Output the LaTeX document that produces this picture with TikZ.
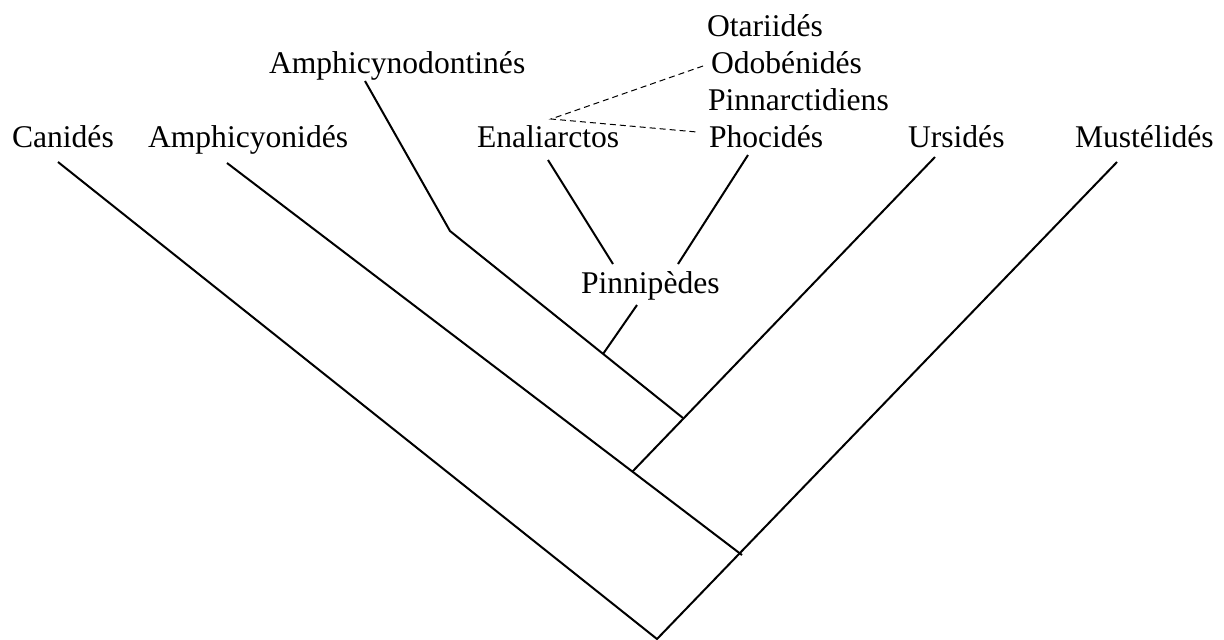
\documentclass[tikz,border=0pt]{standalone}
\usepackage{fontspec}
\setmainfont{Liberation Serif}
\begin{document}
\begin{tikzpicture}[x=0.5pt,y=-0.5pt,
  lab/.style={anchor=base west,inner sep=0pt,outer sep=0pt,font=\fontsize{15.8}{19}\selectfont},
  branch/.style={line width=1pt,line cap=butt,line join=miter},
  link/.style={line width=0.5pt,dash pattern=on 3pt off 2pt}]
\useasboundingbox (0,0) rectangle (1224,639);
% labels
\node[lab] (canides) at (12,147) {Canidés};
\node[lab] (amphicyon) at (148,147) {Amphicyonidés};
\node[lab] (amphicyno) at (269,73) {Amphicynodontinés};
\node[lab] (enaliarctos) at (477,147) {Enaliarctos};
\node[lab] (otariides) at (707,36) {Otariidés};
\node[lab] (odobenides) at (711,73) {Odobénidés};
\node[lab] (pinnarct) at (708,110) {Pinnarctidiens};
\node[lab] (phocides) at (709,147) {Phocidés};
\node[lab] (ursides) at (908,147) {Ursidés};
\node[lab] (mustelides) at (1075,147) {Mustélidés};
\node[lab] (pinnipedes) at (581,293) {Pinnipèdes};
% branch ends and junctions
\coordinate (root) at (657,639);
\coordinate (cT) at (58,162);
\coordinate (aT) at (227,163);
\coordinate (nT) at (365,81);
\coordinate (nB) at (450,231);
\coordinate (eT) at (548,160);
\coordinate (eB) at (613,264);
\coordinate (pT) at (748,155);
\coordinate (pB) at (678,264);
\coordinate (piT) at (637,305);
\coordinate (uT) at (935,157);
\coordinate (mT) at (1117,162);
\coordinate (j0) at (603,354);
\coordinate (j1) at (683,418);
\coordinate (j2) at (632,472);
\coordinate (j3) at (742,555);
\coordinate (d0) at (551,119);
\coordinate (dO) at (703,66);
\coordinate (dP) at (697,132);
% tree
\draw[branch] (cT) -- (root) -- (mT);
\draw[branch] (aT) -- (j3);
\draw[branch] (uT) -- (j2);
\draw[branch] (nT) -- (nB) -- (j1);
\draw[branch] (j0) -- (piT);
\draw[branch] (eT) -- (eB);
\draw[branch] (pT) -- (pB);
% dashed links
\draw[link] (dO) -- (d0) -- (dP);
\end{tikzpicture}
\end{document}
